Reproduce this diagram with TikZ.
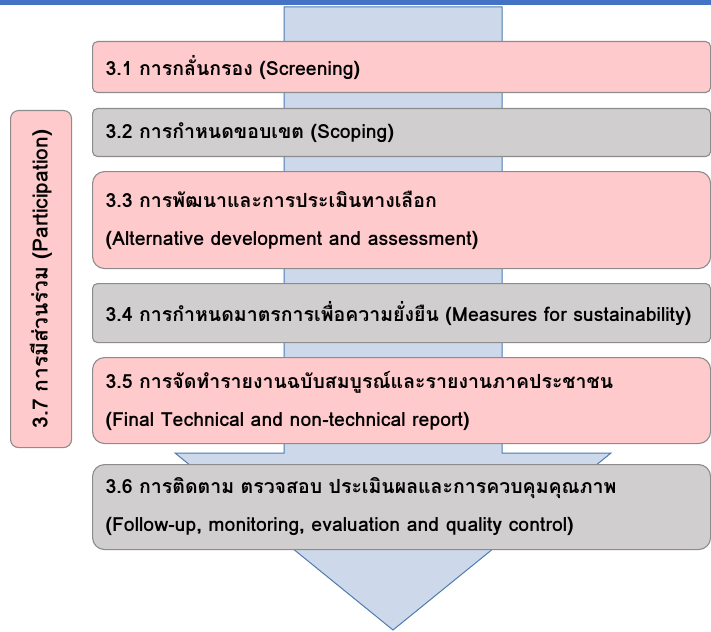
\documentclass[tikz,border=0pt]{standalone}
\usepackage{fontspec}
\newfontfamily\thaifont[Script=Thai]{Loma}
\definecolor{topbar}{HTML}{4472C4}
\definecolor{arrowfill}{HTML}{CDD8EA}
\definecolor{arrowline}{HTML}{4F7CB0}
\definecolor{pinkfill}{HTML}{FFCACB}
\definecolor{grayfill}{HTML}{D0CECE}
\definecolor{boxline}{HTML}{8C8C8C}
\tikzset{
  stagebox/.style={draw=boxline, line width=1.1pt, anchor=north west, minimum width=618pt,
    inner xsep=13pt, inner ysep=0pt, align=left, text width=592pt,
    font=\thaifont\bfseries\fontsize{19.5}{38}\selectfont, text=black},
  pinkbox/.style={stagebox, fill=pinkfill},
  graybox/.style={stagebox, fill=grayfill},
  smallr/.style={rounded corners=5pt},
  bigr/.style={rounded corners=12pt},
}
\begin{document}
\begin{tikzpicture}[x=1pt,y=-1pt]
\useasboundingbox (0,0) rectangle (711,631);
\fill[white] (0,0) rectangle (711,631);
\fill[topbar] (0,0) rectangle (711,5);
% big arrow
\draw[fill=arrowfill, draw=arrowline, line width=1pt, line join=miter]
  (284,7) coordinate (a1) -- (502,7) -- (502,453) -- (611,453) -- (393,630) coordinate (tip)
  -- (175,453) -- (284,453) -- cycle;
% stage boxes
\node[pinkbox, smallr, minimum height=51pt] (s1) at (92,41) {3.1 การกลั่นกรอง (Screening)};
\node[graybox, smallr, minimum height=48pt] (s2) at (92,108) {3.2 การกำหนดขอบเขต (Scoping)};
\node[pinkbox, bigr, minimum height=97pt] (s3) at (92,171) {3.3 การพัฒนาและการประเมินทางเลือก\\(Alternative development and assessment)};
\node[graybox, smallr, minimum height=59pt] (s4) at (92,283) {3.4 การกำหนดมาตรการเพื่อความยั่งยืน (Measures for sustainability)};
\node[pinkbox, bigr, minimum height=86pt] (s5) at (92,357) {3.5 การจัดทำรายงานฉบับสมบูรณ์และรายงานภาคประชาชน\\(Final Technical and non-technical report)};
\node[graybox, bigr, minimum height=85pt] (s6) at (92,464) {3.6 การติดตาม ตรวจสอบ ประเมินผลและการควบคุมคุณภาพ\\(Follow-up, monitoring, evaluation and quality control)};
% participation box
\node[draw=boxline, line width=1.1pt, fill=pinkfill, rounded corners=8pt,
  minimum width=61pt, minimum height=337pt, anchor=north west, inner sep=0pt] (s7) at (10,110) {};
\node[rotate=90, font=\thaifont\bfseries\fontsize{21}{24}\selectfont] (s7t) at (s7.center) {3.7 การมีส่วนร่วม (Participation)};
\end{tikzpicture}
\end{document}
